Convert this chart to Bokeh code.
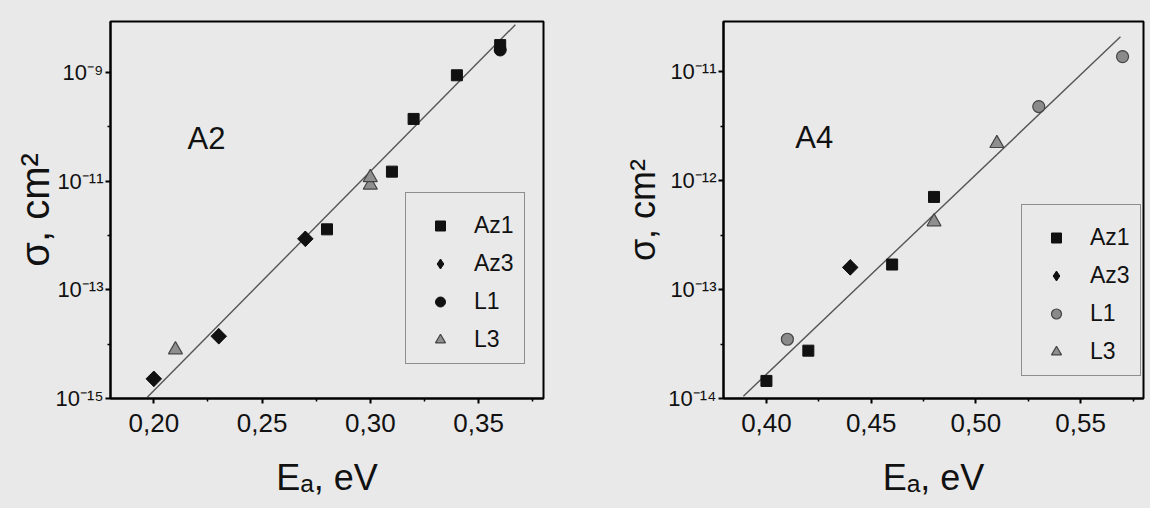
from bokeh.plotting import figure
from bokeh.layouts import row
from bokeh.models import (FixedTicker, Legend, LegendItem, Label, Range1d,
                          CustomJSTickFormatter)
from bokeh.embed import file_html
from bokeh.resources import INLINE

# ---------------- data: panel A2 ----------------
a2_az1_x = [0.28, 0.31, 0.32, 0.34, 0.36]
a2_az1_y = [1.3e-12, 1.5e-11, 1.4e-10, 8.9e-10, 3.2e-9]
a2_az3_x = [0.20, 0.23, 0.27]
a2_az3_y = [2.3e-15, 1.4e-14, 8.7e-13]
a2_l1_x = [0.36]
a2_l1_y = [2.6e-9]
a2_l3_x = [0.21, 0.30, 0.30]
a2_l3_y = [7.9e-15, 8.5e-12, 1.17e-11]
a2_fit_x = [0.197, 0.367]
a2_fit_y = [1.05e-15, 7.6e-9]

# ---------------- data: panel A4 ----------------
a4_az1_x = [0.40, 0.42, 0.46, 0.48]
a4_az1_y = [1.45e-14, 2.75e-14, 1.7e-13, 7.1e-13]
a4_az3_x = [0.44]
a4_az3_y = [1.6e-13]
a4_l1_x = [0.41, 0.53, 0.57]
a4_l1_y = [3.5e-14, 4.8e-12, 1.38e-11]
a4_l3_x = [0.48, 0.51]
a4_l3_y = [4.2e-13, 2.2e-12]
a4_fit_x = [0.389, 0.569]
a4_fit_y = [1.05e-14, 2.1e-11]

# ---------------- ticks ----------------
a2_xticks = [0.20, 0.25, 0.30, 0.35]
a2_xlabels = ["0,20", "0,25", "0,30", "0,35"]
a2_xminor = [0.225, 0.275, 0.325, 0.375]
a2_yticks = [1e-15, 1e-13, 1e-11, 1e-9]
a2_ylabels = ["10\u207b\u00b9\u2075", "10\u207b\u00b9\u00b3", "10\u207b\u00b9\u00b9", "10\u207b\u2079"]
a2_yminor = [1e-14, 1e-12, 1e-10]

a4_xticks = [0.40, 0.45, 0.50, 0.55]
a4_xlabels = ["0,40", "0,45", "0,50", "0,55"]
a4_xminor = [0.425, 0.475, 0.525, 0.575]
a4_yticks = [1e-14, 1e-13, 1e-12, 1e-11]
a4_ylabels = ["10\u207b\u00b9\u2074", "10\u207b\u00b9\u00b3", "10\u207b\u00b9\u00b2", "10\u207b\u00b9\u00b9"]
a4_yminor = [3.16e-14, 3.16e-13, 3.16e-12]

series_names = ["Az1", "Az3", "L1", "L3"]

BG = "#e9e9e9"
FONT = "Liberation Sans"
INK = "#111111"

def lookup_formatter(tvals, tlabels):
    return CustomJSTickFormatter(args=dict(tv=tvals, tl=tlabels), code="""
        for (let i = 0; i < tv.length; i++) {
            if (Math.abs(tick - tv[i]) <= 1e-6 * Math.abs(tv[i])) { return tl[i]; }
        }
        return "";
    """)

def make_panel(width, bl, bt, br, bb, xr, yr, xticks, xlabels, xminor,
               yticks, ylabels, yminor, ylabel_size, ylabel_standoff, data, fit,
               l1_gray, title_txt, title_xy, legend_loc):
    p = figure(width=width, height=508,
               x_range=Range1d(*xr), y_range=Range1d(*yr), y_axis_type="log",
               output_backend="svg", toolbar_location=None)
    p.title.visible = False
    p.min_border_left = bl
    p.min_border_top = bt
    p.min_border_right = br
    p.min_border_bottom = bb
    p.background_fill_color = BG
    p.border_fill_color = BG
    p.outline_line_color = "black"
    p.outline_line_width = 2
    p.grid.visible = False

    xa = p.xaxis[0]
    xa.ticker = FixedTicker(ticks=xticks, minor_ticks=xminor)
    xa.formatter = lookup_formatter(xticks, xlabels)
    xa.axis_label = "E\u2090, eV"
    xa.axis_label_text_font = FONT
    xa.axis_label_text_font_size = "36px"
    xa.axis_label_text_font_style = "normal"
    xa.axis_label_text_color = INK
    xa.axis_label_standoff = 22
    xa.major_label_text_font = FONT
    xa.major_label_text_font_size = "26px"
    xa.major_label_text_color = INK
    xa.major_label_standoff = 10

    ya = p.yaxis[0]
    ya.ticker = FixedTicker(ticks=yticks, minor_ticks=yminor)
    ya.formatter = lookup_formatter(yticks, ylabels)
    ya.axis_label = "\u03c3, cm\u00b2"
    ya.axis_label_text_font = FONT
    ya.axis_label_text_font_size = ylabel_size
    ya.axis_label_text_font_style = "normal"
    ya.axis_label_text_color = INK
    ya.axis_label_standoff = ylabel_standoff
    ya.major_label_text_font = FONT
    ya.major_label_text_font_size = "22px"
    ya.major_label_text_color = INK
    ya.major_label_standoff = 2

    for ax in (xa, ya):
        ax.axis_line_width = 2
        ax.axis_line_color = "black"
        ax.major_tick_line_width = 2
        ax.minor_tick_line_width = 1.5
        ax.major_tick_in = 0
        ax.major_tick_out = 5
        ax.minor_tick_in = 0
        ax.minor_tick_out = 3

    p.line(fit[0], fit[1], line_color="#555555", line_width=1.4)

    (az1x, az1y), (az3x, az3y), (l1x, l1y), (l3x, l3y) = data
    r1 = p.scatter(az1x, az1y, marker="square", size=11, fill_color=INK, line_color=INK)
    p.scatter(az3x, az3y, marker="square", size=11, angle=0.785398,
              fill_color=INK, line_color=INK)
    r2 = p.scatter(az3x, az3y, marker="diamond", size=15, fill_color=INK, line_color=INK)
    if l1_gray:
        r3 = p.scatter(l1x, l1y, marker="circle", size=12, fill_color="#8a8a8a",
                       line_color="#444444", line_width=1.2)
    else:
        r3 = p.scatter(l1x, l1y, marker="circle", size=12, fill_color=INK, line_color=INK)
    r4 = p.scatter(l3x, l3y, marker="triangle", size=14, fill_color="#8f8f8f",
                   line_color="#444444", line_width=1.2)

    legend = Legend(items=[LegendItem(label=n, renderers=[r])
                           for n, r in zip(series_names, [r1, r2, r3, r4])],
                    location=legend_loc, orientation="vertical")
    legend.title = " "
    legend.title_text_font_size = "8px"
    legend.title_standoff = 0
    legend.background_fill_color = BG
    legend.background_fill_alpha = 1.0
    legend.border_line_color = "#333333"
    legend.border_line_width = 1
    legend.label_text_font = FONT
    legend.label_text_font_size = "23px"
    legend.label_text_color = INK
    legend.glyph_width = 48
    legend.glyph_height = 25
    legend.label_height = 25
    legend.spacing = 11
    legend.padding = 10
    legend.margin = 0
    legend.label_standoff = 10
    p.add_layout(legend, "center")

    p.add_layout(Label(x=title_xy[0], y=title_xy[1], text=title_txt,
                       text_font=FONT, text_font_size="31px", text_color=INK,
                       text_baseline="bottom", text_align="left"))
    return p

p1 = make_panel(600, 110, 13, 57, 110, (0.18, 0.38), (1e-15, 8.7e-9),
                a2_xticks, a2_xlabels, a2_xminor, a2_yticks, a2_ylabels, a2_yminor,
                "40px", -4,
                [(a2_az1_x, a2_az1_y), (a2_az3_x, a2_az3_y), (a2_l1_x, a2_l1_y), (a2_l3_x, a2_l3_y)],
                (a2_fit_x, a2_fit_y), False, "A2", (0.2156, 2.9e-11), (295, 34))

p2 = make_panel(550, 123, 21, 7, 108, (0.3795, 0.58), (1e-14, 2.9e-11),
                a4_xticks, a4_xlabels, a4_xminor, a4_yticks, a4_ylabels, a4_yminor,
                "36px", 2,
                [(a4_az1_x, a4_az1_y), (a4_az3_x, a4_az3_y), (a4_l1_x, a4_l1_y), (a4_l3_x, a4_l3_y)],
                (a4_fit_x, a4_fit_y), True, "A4", (0.4138, 1.74e-12), (298, 22))

layout = row(p1, p2, spacing=0)
layout.styles = {"background-color": BG}
open("out.html", "w").write(file_html(layout, INLINE))
